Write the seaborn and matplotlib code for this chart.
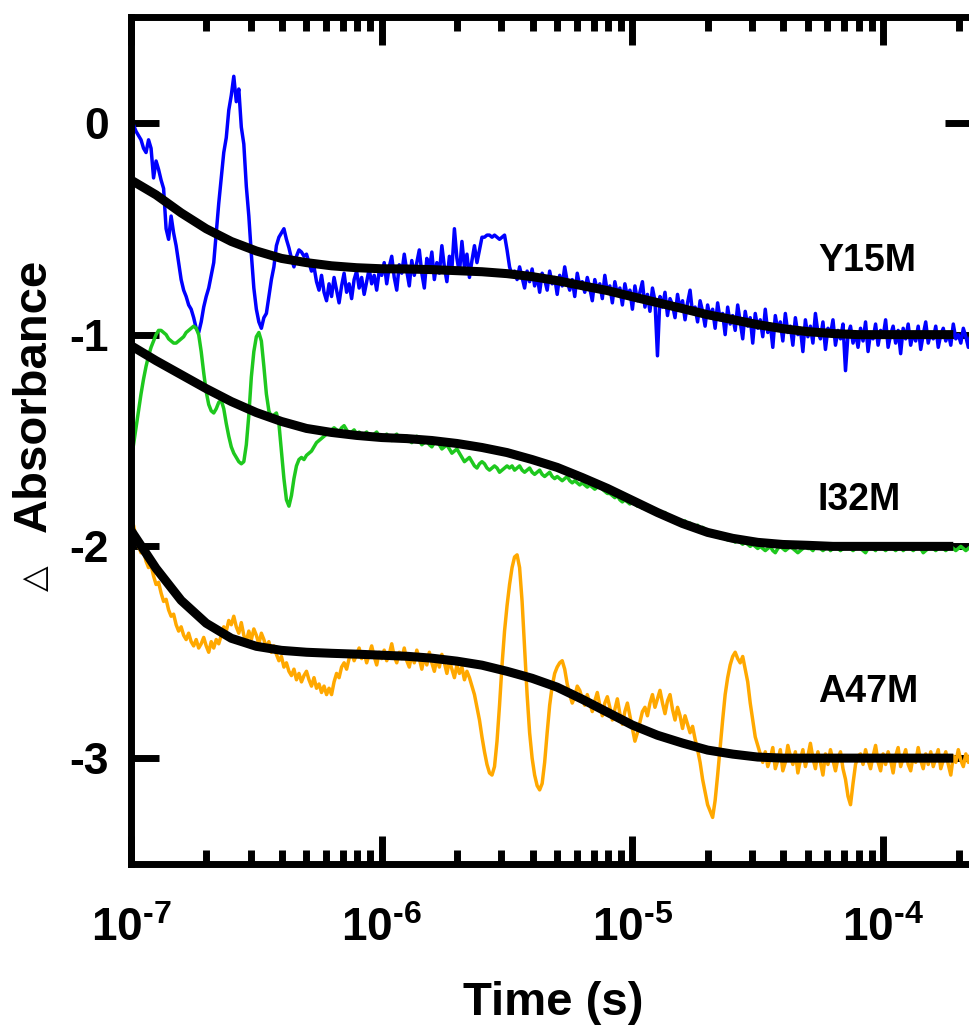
import numpy as np
import pandas as pd
import matplotlib
matplotlib.use("Agg")
import matplotlib.pyplot as plt
import seaborn as sns

# ---- data ---------------------------------------------------------------
# transient traces sampled on a uniform log10(time) grid
log_t0 = -7.0      # log10 of first sample time (s)
log_dt = 0.01      # grid spacing in decades

y15m = [
    0.00, -0.01, -0.04, -0.06, -0.08, -0.12, -0.14, -0.08, -0.12, -0.26,
    -0.18, -0.22, -0.27, -0.31, -0.50, -0.55, -0.44, -0.52, -0.58, -0.66,
    -0.74, -0.79, -0.82, -0.86, -0.88, -0.92, -0.97, -0.99, -0.94, -0.87,
    -0.82, -0.78, -0.72, -0.66, -0.52, -0.38, -0.26, -0.14, -0.07, 0.06,
    0.13, 0.22, 0.10, 0.16, -0.02, -0.10, -0.30, -0.44, -0.62, -0.78,
    -0.88, -0.94, -0.97, -0.92, -0.90, -0.82, -0.74, -0.68, -0.58, -0.54,
    -0.52, -0.50, -0.55, -0.59, -0.64, -0.68, -0.63, -0.60, -0.61, -0.63,
    -0.62, -0.66, -0.70, -0.68, -0.75, -0.79,
    -0.72, -0.80, -0.84, -0.76, -0.82, -0.73, -0.79, -0.85, -0.77, -0.71,
    -0.80, -0.76, -0.83, -0.74, -0.70, -0.78, -0.73, -0.81, -0.75, -0.69,
    -0.76, -0.72, -0.79, -0.70,
    -0.72, -0.66, -0.76, -0.68, -0.63, -0.73, -0.79, -0.67, -0.71, -0.62,
    -0.70, -0.77, -0.65, -0.72, -0.66, -0.60, -0.71, -0.78, -0.64, -0.69,
    -0.61, -0.74, -0.66, -0.71, -0.58, -0.68, -0.75, -0.63, -0.69, -0.50,
    -0.64, -0.71, -0.56, -0.68, -0.62, -0.73, -0.65, -0.58, -0.66, -0.60,
    -0.54, -0.54, -0.53, -0.53, -0.54, -0.53, -0.54, -0.55, -0.54, -0.53,
    -0.60, -0.68, -0.72, -0.70, -0.74, -0.68,
    -0.73, -0.78, -0.70, -0.75, -0.69, -0.77, -0.72, -0.80, -0.71, -0.74,
    -0.79, -0.70, -0.76, -0.73, -0.81, -0.72, -0.77, -0.68, -0.75, -0.79,
    -0.74, -0.82, -0.71, -0.77, -0.75, -0.80, -0.73, -0.78, -0.84, -0.74,
    -0.79, -0.76, -0.83, -0.72, -0.80, -0.77, -0.85, -0.75, -0.81, -0.78,
    -0.86, -0.76, -0.82, -0.79, -0.88, -0.77, -0.84, -0.80, -0.75, -0.87,
    -0.81, -0.89, -0.78, -0.84, -1.10, -0.82, -0.87, -0.80, -0.91, -0.83,
    -0.86, -0.92, -0.81, -0.88, -0.84, -0.93, -0.85, -0.79, -0.90, -0.87,
    -0.94, -0.84, -0.89, -0.96, -0.86,
    -0.92, -0.88, -0.97, -0.85, -0.93, -0.90, -1.00, -0.87, -0.95, -0.91,
    -0.98, -0.86, -0.94, -1.02, -0.89, -0.96, -0.92, -1.04, -0.90, -0.97,
    -0.93, -1.01, -0.88, -0.99, -0.95, -1.06, -0.91, -0.98, -0.94, -1.03,
    -0.90, -0.99, -0.96, -1.05, -0.92, -1.00, -0.97, -1.08, -0.93, -1.01,
    -0.96, -1.04, -0.90, -0.99, -1.02, -0.94, -1.07, -0.97, -1.00, -0.93,
    -1.05, -0.98, -1.02, -0.95, -1.17, -1.00, -0.96, -1.04, -0.99, -1.06,
    -0.97, -1.03, -0.94, -1.08, -0.99, -1.02, -0.95, -1.05, -0.98, -1.01,
    -0.93, -1.06, -1.00, -0.96, -1.04, -0.98, -1.09, -0.97, -1.02, -0.95,
    -1.05, -0.99, -1.03, -0.96, -1.07, -1.00, -0.94, -1.04, -0.99, -1.02,
    -0.96, -1.06, -1.00, -0.97, -1.03, -0.99, -1.05, -0.95, -1.02, -1.00,
    -1.04, -0.97, -1.01, -1.06, -0.99, -1.03,
]

i32m = [
    -1.60, -1.52, -1.44, -1.36, -1.28, -1.21, -1.15, -1.10, -1.06, -1.03,
    -1.00, -0.98, -0.98, -0.99, -1.00, -1.02, -1.03, -1.04, -1.04, -1.03,
    -1.02, -1.01, -0.99, -0.98, -0.97, -0.96,
    -0.97, -1.00, -1.08, -1.18, -1.27, -1.33, -1.36, -1.37, -1.35, -1.32,
    -1.31, -1.35, -1.42, -1.48, -1.53, -1.56, -1.58, -1.60, -1.61, -1.60,
    -1.52, -1.38, -1.20, -1.08, -1.01, -0.99, -1.03, -1.15, -1.28, -1.36,
    -1.39, -1.38, -1.37, -1.42, -1.55, -1.68, -1.78, -1.81, -1.76, -1.68,
    -1.62, -1.59, -1.58, -1.59, -1.57, -1.56, -1.55, -1.53, -1.51, -1.50,
    -1.49, -1.48, -1.47, -1.46, -1.45,
    -1.44, -1.45, -1.46, -1.44, -1.43, -1.45, -1.47, -1.46, -1.45, -1.47,
    -1.46, -1.48, -1.47, -1.46, -1.48, -1.49, -1.47, -1.46, -1.48, -1.49,
    -1.48, -1.47, -1.49, -1.50, -1.48, -1.47, -1.49, -1.50, -1.49, -1.48,
    -1.50, -1.51, -1.49, -1.48, -1.50, -1.52, -1.51, -1.50, -1.52, -1.53,
    -1.51, -1.50, -1.52, -1.54, -1.53, -1.52, -1.54, -1.56, -1.55, -1.54,
    -1.56, -1.58, -1.60, -1.59, -1.58, -1.60, -1.62, -1.63, -1.61, -1.60,
    -1.61, -1.63, -1.64, -1.63, -1.62, -1.63, -1.65, -1.64, -1.63, -1.62,
    -1.63, -1.62, -1.64, -1.63, -1.62, -1.64, -1.65, -1.64, -1.63, -1.65,
    -1.66, -1.65, -1.64, -1.66, -1.67, -1.66, -1.65, -1.67, -1.68, -1.67,
    -1.68, -1.69, -1.68, -1.67, -1.69, -1.70, -1.69, -1.70, -1.71, -1.70,
    -1.71, -1.72, -1.71, -1.72, -1.73, -1.72, -1.71, -1.73, -1.74, -1.75,
    -1.75, -1.76, -1.77, -1.76, -1.78, -1.79, -1.78, -1.79, -1.80, -1.79,
    -1.80, -1.81, -1.80, -1.82, -1.81, -1.83, -1.82, -1.83, -1.84, -1.83,
    -1.84, -1.85, -1.84, -1.86, -1.87, -1.86, -1.88, -1.87, -1.88, -1.89,
    -1.88, -1.90, -1.89, -1.90, -1.91, -1.90, -1.92, -1.91, -1.92, -1.93,
    -1.93, -1.94, -1.95, -1.94, -1.96, -1.95, -1.96, -1.97, -1.96, -1.97,
    -1.98, -1.97, -1.98, -1.99, -1.98, -1.99, -2.00, -1.99, -2.00, -2.01,
    -2.00, -2.01, -2.02, -2.01, -2.00, -2.02, -2.03, -2.01, -2.00, -2.01,
    -2.02, -2.01, -2.00, -2.01, -2.02, -2.03, -2.02, -2.01, -2.00, -2.01,
    -2.01, -2.02, -2.00, -1.99, -2.01, -2.02, -2.01, -2.00, -2.02, -2.01,
    -2.00, -2.01, -2.02, -2.01, -2.00, -1.99, -2.01, -2.02, -2.01, -2.00,
    -2.01, -2.02, -2.03, -2.01, -2.00, -2.01, -2.02, -2.00, -1.99, -2.01,
    -2.02, -2.01, -2.00, -2.01, -2.02, -2.01, -2.00, -2.02, -2.01, -2.00,
    -2.01, -2.02, -2.01, -2.00, -2.01, -2.03, -2.02, -2.01, -2.00, -2.01,
    -2.02, -2.01, -2.00, -2.01, -2.02, -2.01, -2.00, -2.01, -2.02, -2.01,
    -2.00, -2.01, -2.02, -2.01, -2.00, -2.01,
]

a47m = [
    -1.92, -1.90, -1.96, -2.00, -2.03, -2.02, -2.07, -2.10, -2.09, -2.14,
    -2.18, -2.17, -2.22, -2.26, -2.25, -2.30, -2.33, -2.32, -2.37, -2.40,
    -2.38, -2.42, -2.44, -2.41, -2.45, -2.47, -2.44, -2.48, -2.46, -2.43,
    -2.47, -2.50, -2.45, -2.48, -2.44, -2.46, -2.42, -2.38, -2.40, -2.35,
    -2.37, -2.33, -2.38, -2.41, -2.36, -2.42, -2.45, -2.40, -2.44, -2.39,
    -2.42, -2.46, -2.41, -2.44, -2.48, -2.45, -2.50, -2.47, -2.51, -2.54,
    -2.52, -2.57, -2.55, -2.59, -2.61, -2.58, -2.63, -2.60, -2.64, -2.61,
    -2.59, -2.63, -2.66, -2.62, -2.67, -2.65, -2.69, -2.66, -2.70, -2.67,
    -2.70, -2.64, -2.60, -2.62, -2.57, -2.55, -2.58, -2.53, -2.50, -2.54,
    -2.51,
    -2.48, -2.53, -2.50, -2.55, -2.51, -2.47, -2.52, -2.56, -2.50, -2.53,
    -2.49, -2.54, -2.51, -2.46, -2.52, -2.55, -2.50, -2.53, -2.48, -2.54,
    -2.57, -2.51, -2.55, -2.49, -2.53, -2.58, -2.52, -2.56, -2.50, -2.55,
    -2.59, -2.53, -2.57, -2.51, -2.55, -2.60, -2.54, -2.58, -2.62, -2.56,
    -2.60, -2.57, -2.63, -2.59, -2.62,
    -2.66, -2.70, -2.76, -2.82, -2.90, -2.97, -3.03, -3.07, -3.08, -3.04,
    -2.92, -2.75, -2.56, -2.40, -2.28, -2.18, -2.10, -2.05, -2.04, -2.10,
    -2.26, -2.48, -2.70, -2.88, -3.00, -3.08, -3.13, -3.15, -3.12, -3.02,
    -2.88, -2.75, -2.66, -2.60, -2.57, -2.55, -2.54, -2.58, -2.65, -2.70,
    -2.74, -2.71, -2.66, -2.68, -2.72,
    -2.75, -2.70, -2.74, -2.78, -2.73, -2.69, -2.75, -2.80, -2.74, -2.71,
    -2.76, -2.82, -2.77, -2.72, -2.79, -2.84, -2.78, -2.74, -2.80, -2.86,
    -2.92, -2.88, -2.83, -2.78, -2.76, -2.80, -2.74, -2.70, -2.76, -2.72,
    -2.68, -2.74, -2.79, -2.73, -2.70, -2.77, -2.82, -2.76, -2.80, -2.86,
    -2.80, -2.84, -2.88, -2.85, -2.91, -2.96, -3.02, -3.10, -3.16, -3.22,
    -3.25, -3.28, -3.20, -3.08, -2.95, -2.82, -2.70, -2.62, -2.56, -2.52,
    -2.50, -2.53, -2.55, -2.52, -2.58, -2.64, -2.74, -2.82, -2.90, -2.94,
    -2.98,
    -3.02, -2.97, -3.04, -3.00, -2.95, -3.05, -3.01, -2.96, -3.06, -3.02,
    -2.94, -2.99, -3.03, -2.97, -3.07, -3.01, -2.96, -3.04, -2.99, -2.93,
    -3.00, -3.05, -2.97, -3.02, -3.08, -2.98, -3.03, -2.96, -3.01, -3.06,
    -3.00, -2.97, -3.05, -3.10, -3.18, -3.22, -3.12, -3.03, -2.99,
    -2.98, -3.03, -2.96, -3.01, -3.05, -2.99, -2.94, -3.02, -3.06, -2.98,
    -3.03, -2.97, -3.01, -3.07, -2.99, -2.95, -3.04, -3.00, -2.96, -3.03,
    -3.06, -2.99, -3.02, -2.95, -3.01, -3.05, -2.98, -3.03, -2.97, -3.04,
    -3.00, -2.96, -3.05, -3.01, -2.97, -3.03, -3.08, -2.99, -3.02, -2.96,
    -3.01, -3.04, -2.98, -3.02, -2.97, -3.00,
]

# fitted kinetic curves (log10 time, absorbance change)
fit_log_t = [
    -7.0, -6.9, -6.8, -6.7, -6.6, -6.5, -6.4, -6.3, -6.2, -6.1,
    -6.0, -5.9, -5.8, -5.7, -5.6, -5.5, -5.4, -5.3, -5.2, -5.1,
    -5.0, -4.9, -4.8, -4.7, -4.6, -4.5, -4.4, -4.3, -4.2, -4.1,
    -4.0, -3.9, -3.8, -3.72,
]
fit_y15m = [
    -0.270, -0.340, -0.425, -0.500, -0.560, -0.605, -0.640, -0.660, -0.675, -0.684,
    -0.689, -0.690, -0.693, -0.698, -0.703, -0.712, -0.726, -0.745, -0.769, -0.792,
    -0.821, -0.849, -0.877, -0.906, -0.929, -0.953, -0.972, -0.986, -0.995, -1.000,
    -1.000, -1.000, -1.000, -1.000,
]
fit_i32m = [
    -1.052, -1.123, -1.189, -1.255, -1.316, -1.368, -1.410, -1.443, -1.462, -1.476,
    -1.486, -1.491, -1.500, -1.514, -1.533, -1.557, -1.590, -1.627, -1.675, -1.726,
    -1.783, -1.840, -1.892, -1.934, -1.962, -1.981, -1.991, -1.995, -2.000, -2.000,
    -2.000, -2.000, -2.000, -2.000,
]
fit_a47m = [
    -1.925, -2.104, -2.255, -2.363, -2.434, -2.472, -2.491, -2.500, -2.505, -2.509,
    -2.514, -2.519, -2.528, -2.542, -2.561, -2.590, -2.623, -2.665, -2.722, -2.783,
    -2.844, -2.892, -2.929, -2.962, -2.981, -2.995, -3.000, -3.000, -3.000, -3.000,
    -3.000, -3.000, -3.000, -3.000,
]

mutants = ["Y15M", "I32M", "A47M"]
traces = [y15m, i32m, a47m]
fits = [fit_y15m, fit_i32m, fit_a47m]
colors = ["#0000FF", "#1EC81E", "#FFA800"]
label_y = [-0.65, -1.78, -2.69]

x_major = [1e-7, 1e-6, 1e-5, 1e-4]
x_major_labels = ["$\\mathbf{10^{\u20107}}$", "$\\mathbf{10^{\u20106}}$",
                  "$\\mathbf{10^{\u20105}}$", "$\\mathbf{10^{\u20104}}$"]
y_major = [-3, -2, -1, 0]
y_major_labels = ["-3", "-2", "-1", "0"]

# ---- style --------------------------------------------------------------
sns.set_theme(style="white")
plt.rcParams["font.family"] = ["Liberation Sans", "DejaVu Sans"]
plt.rcParams["font.weight"] = "bold"
for key in ("text.color", "axes.labelcolor", "xtick.color", "ytick.color",
            "axes.edgecolor"):
    plt.rcParams[key] = "black"
plt.rcParams["mathtext.fontset"] = "custom"
plt.rcParams["mathtext.bf"] = "Liberation Sans:bold"
plt.rcParams["mathtext.rm"] = "Liberation Sans:bold"

W, H, DPI = 969, 1032, 100
fig = plt.figure(figsize=(W / DPI, H / DPI), dpi=DPI)
left_px, right_px, top_px, bottom_px = 131, 973, 17, 864
ax = fig.add_axes([left_px / W, 1 - bottom_px / H,
                   (right_px - left_px) / W, (bottom_px - top_px) / H])

# ---- traces -------------------------------------------------------------
frames = []
for name, vals in zip(mutants, traces):
    log_t = log_t0 + log_dt * np.arange(len(vals))
    frames.append(pd.DataFrame({"time": 10.0 ** log_t, "dA": vals, "mutant": name}))
data = pd.concat(frames, ignore_index=True)

for name, col in zip(mutants, colors):
    sub = data[data["mutant"] == name]
    sns.lineplot(data=sub, x="time", y="dA", color=col, linewidth=2.5,
                 estimator=None, sort=False, ax=ax, legend=False)

fit_t = 10.0 ** np.asarray(fit_log_t)
for fv in fits:
    sns.lineplot(x=fit_t, y=fv, color="black", linewidth=6.5,
                 estimator=None, sort=False, ax=ax, legend=False,
                 solid_capstyle="butt")

for name, ly in zip(mutants, label_y):
    ax.text(10 ** -4.26, ly, name, fontsize=27, fontweight="bold",
            ha="left", va="center", color="black")

# ---- axes ---------------------------------------------------------------
ax.set_xscale("log")
ax.set_xlim(1e-7, 10 ** (-7 + (right_px - left_px) / 250.7))
ax.set_ylim(-3.5, 0.5)
ax.set_xticks(x_major)
ax.set_xticklabels(x_major_labels)
ax.xaxis.set_minor_locator(matplotlib.ticker.LogLocator(base=10, subs=np.arange(2, 10)))
ax.xaxis.set_minor_formatter(matplotlib.ticker.NullFormatter())
ax.set_yticks(y_major)
ax.set_yticklabels(y_major_labels, fontweight="bold")
ax.set_xlabel("")
ax.set_ylabel("")

for sp in ax.spines.values():
    sp.set_linewidth(5)
    sp.set_color("black")

ax.tick_params(axis="both", which="major", direction="in", length=20, width=5,
               top=True, right=True, bottom=True, left=True, color="black")
ax.tick_params(axis="x", which="minor", direction="in", length=10, width=5,
               top=True, bottom=True, color="black")
ax.tick_params(axis="x", which="major", labelsize=33, pad=31)
ax.tick_params(axis="y", which="major", labelsize=32, pad=16)

fig.text(553 / W, 1 - 1003 / H, "Time (s)", fontsize=34, fontweight="bold",
         ha="center", va="center")
fig.text(34 / W, 1 - 395 / H, "Absorbance", fontsize=34, fontweight="bold",
         rotation=90, ha="center", va="center")
fig.text(35 / W, 1 - 578 / H, "\u25B3", fontsize=24, fontweight="normal",
         family="DejaVu Sans", rotation=90, ha="center", va="center")

fig.savefig("out.png", dpi=DPI)
